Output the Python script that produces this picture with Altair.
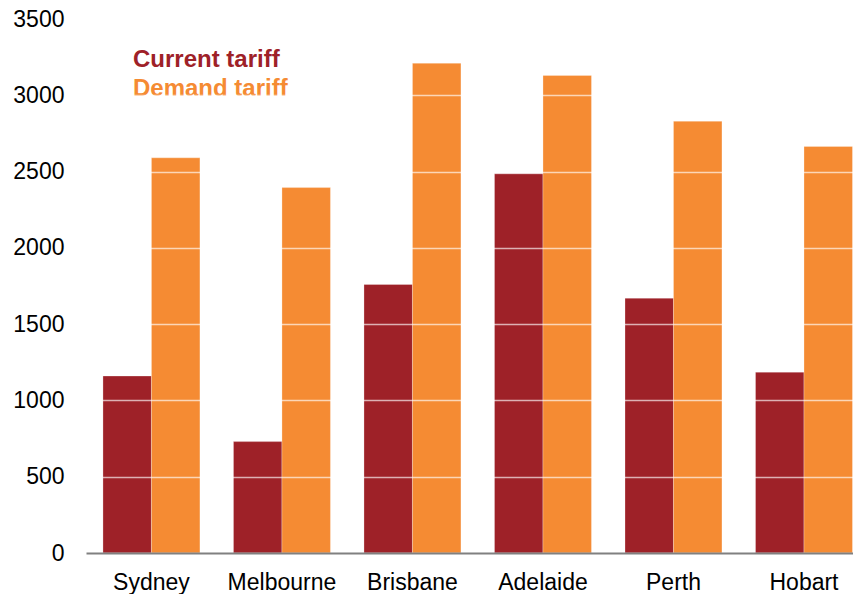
import altair as alt
import pandas as pd

cities = ["Sydney", "Melbourne", "Brisbane", "Adelaide", "Perth", "Hobart"]
current_tariff = [1160, 730, 1760, 2485, 1670, 1185]
demand_tariff = [2590, 2395, 3210, 3130, 2830, 2665]
series = ["Current tariff", "Demand tariff"]
colors = ["#9E2128", "#F58B33"]
y_ticks = [0, 500, 1000, 1500, 2000, 2500, 3000, 3500]

rows = []
for c, cur, dem in zip(cities, current_tariff, demand_tariff):
    rows.append({"city": c, "series": series[0], "value": cur})
    rows.append({"city": c, "series": series[1], "value": dem})
df = pd.DataFrame(rows)

FONT = "Liberation Sans"

chart = alt.Chart(df).mark_bar(
    stroke="white", strokeWidth=0.8, strokeOpacity=0.35
).encode(
    x=alt.X(
        "city:N",
        sort=cities,
        title=None,
        scale=alt.Scale(paddingInner=0.257, paddingOuter=0.067, align=0.97),
        axis=alt.Axis(
            labelAngle=0,
            labelFont=FONT,
            labelFontSize=23,
            labelColor="black",
            labelPadding=18,
            ticks=False,
            tickSize=0,
            domain=True,
            domainColor="#808080",
            domainWidth=2,
            grid=False,
            zindex=2,
        ),
    ),
    xOffset=alt.XOffset("series:N", sort=series, scale=alt.Scale(paddingInner=0, paddingOuter=0)),
    y=alt.Y(
        "value:Q",
        title=None,
        scale=alt.Scale(domain=[0, 3500], nice=False),
        axis=alt.Axis(
            values=y_ticks,
            format="d",
            labelFont=FONT,
            labelFontSize=23,
            labelColor="black",
            labelPadding=22,
            ticks=False,
            tickSize=0,
            domain=False,
            grid=True,
            gridColor="white",
            gridOpacity=0.65,
            gridWidth=1.5,
            zindex=1,
        ),
    ),
    color=alt.Color(
        "series:N",
        sort=series,
        scale=alt.Scale(domain=series, range=colors),
        legend=alt.Legend(
            title=None,
            orient="none",
            legendX=23,
            legendY=29,
            direction="vertical",
            symbolOpacity=0,
            symbolSize=0,
            symbolStrokeWidth=0,
            labelOffset=0,
            labelFont=FONT,
            labelFontSize=24,
            labelFontWeight="bold",
            labelColor=alt.ExprRef("datum.label === 'Current tariff' ? '#9E2128' : '#F58B33'"),
            rowPadding=5,
            labelLimit=400,
        ),
    ),
).properties(
    width=767,
    height=534,
    padding={"left": 78, "top": 11, "right": 0, "bottom": 43},
    autosize=alt.AutoSizeParams(type="none"),
).configure(background="white").configure_view(stroke=None)

chart.save("out.html", embed_options={"renderer": "svg", "actions": False})
